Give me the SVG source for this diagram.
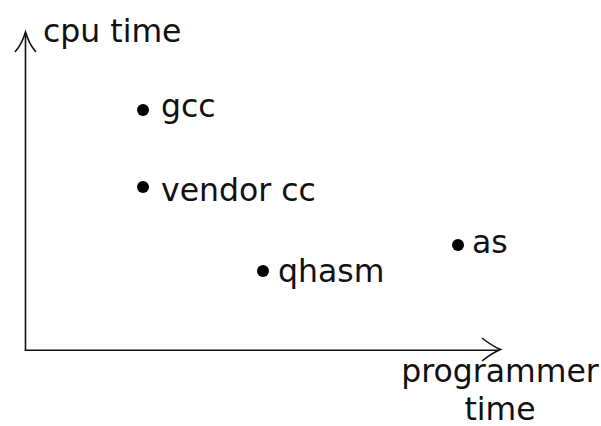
<svg xmlns="http://www.w3.org/2000/svg" width="601" height="426" viewBox="0 0 601 426">
<style>
text{font-family:"DejaVu Sans","Liberation Sans",sans-serif;font-size:31.5px;fill:#111}
.ax{stroke:#111;stroke-width:1.6;fill:none}
.dot{fill:#000}
</style>
<rect width="601" height="426" fill="#fff"/>
<g id="axes" class="connectors">
<path class="ax" d="M25.5 351 V33"/>
<path class="ax" d="M15 52 Q22 44 25.5 32 Q29 44 36 52"/>
<path class="ax" d="M24.7 350.2 H499"/>
<path class="ax" d="M482 338 Q492 346 500.5 349.5 Q492 353 482 361"/>
</g>
<g id="label-y"><text x="43" y="42">cpu time</text></g>
<g id="label-x"><text x="500" y="382" text-anchor="middle">programmer</text><text x="500" y="420" text-anchor="middle">time</text></g>
<g id="gcc"><circle class="dot" cx="143" cy="110" r="6"/><text x="161" y="117">gcc</text></g>
<g id="vendor-cc"><circle class="dot" cx="143" cy="187" r="6"/><text x="161" y="201">vendor cc</text></g>
<g id="qhasm"><circle class="dot" cx="263" cy="271" r="6"/><text x="278" y="282">qhasm</text></g>
<g id="as"><circle class="dot" cx="458" cy="245" r="6"/><text x="472" y="253">as</text></g>
</svg>
